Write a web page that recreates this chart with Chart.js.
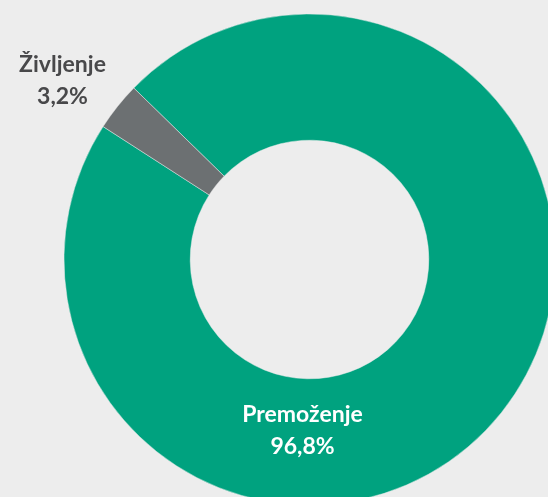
<!DOCTYPE html>
<html>
<head>
<meta charset="utf-8">
<script src="https://cdn.jsdelivr.net/npm/chart.js@4"></script>
<style>
  html, body { margin: 0; padding: 0; background: #ededed; }
  #wrap { width: 548px; height: 497px; overflow: hidden; position: relative; }
  #box { position: absolute; left: 0; top: 0; width: 620px; height: 520px; }
</style>
</head>
<body>
<div id="wrap"><div id="box"><canvas id="chart"></canvas></div></div>
<script>
// podatki
const labels = ["Premoženje", "Življenje"];
const values = [96.8, 3.2];
const valueLabels = ["96,8%", "3,2%"];
const colors = ["#00a27f", "#6c7072"];

// ročno postavljene oznake (odmik od središča kroga)
const labelPlacement = [
  { dx: -7, dy: 155, color: "#ffffff" },
  { dx: -247, dy: -195, color: "#48484a" }
];

const labelPlugin = {
  id: "sliceLabels",
  afterDatasetsDraw(chart) {
    const meta = chart.getDatasetMeta(0);
    const ctx = chart.ctx;
    ctx.save();
    ctx.font = "bold 23px Lato";
    ctx.textAlign = "center";
    ctx.textBaseline = "middle";
    meta.data.forEach((arc, i) => {
      const p = labelPlacement[i];
      const x = arc.x + p.dx;
      const y = arc.y + p.dy;
      ctx.fillStyle = p.color;
      ctx.fillText(labels[i], x, y);
      ctx.fillText(valueLabels[i], x, y + 32);
    });
    ctx.restore();
  }
};

new Chart(document.getElementById("chart"), {
  type: "doughnut",
  data: {
    labels: labels,
    datasets: [{
      data: values,
      backgroundColor: colors,
      borderColor: "rgba(237,237,237,0.45)",
      borderWidth: 1
    }]
  },
  options: {
    responsive: true,
    maintainAspectRatio: false,
    animation: false,
    rotation: -45.7,
    cutout: "48.6%",
    layout: { padding: { left: 63.5, top: 13.5, right: 64.5, bottom: 14.5 } },
    plugins: {
      legend: { display: false },
      tooltip: { enabled: false }
    }
  },
  plugins: [labelPlugin]
});
</script>
</body>
</html>
